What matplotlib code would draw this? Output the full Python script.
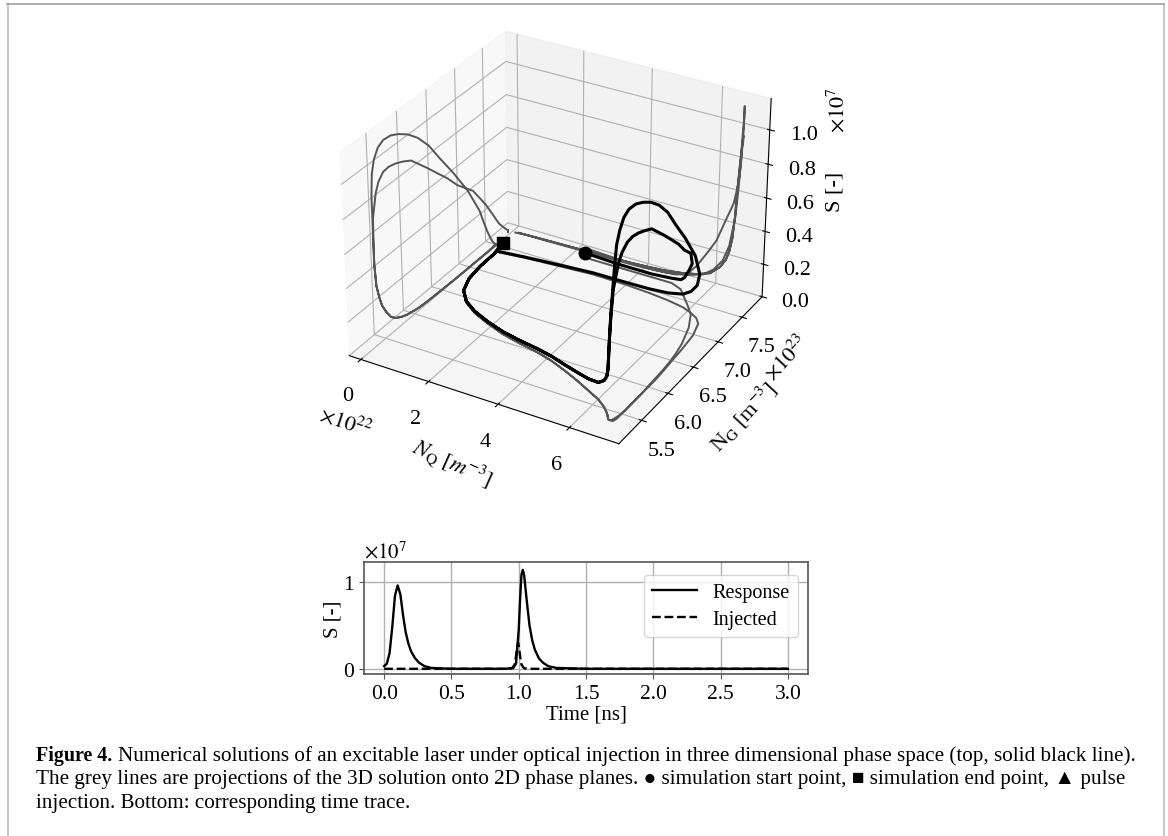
import matplotlib
matplotlib.use("Agg")
import matplotlib.pyplot as plt
from matplotlib.lines import Line2D

plt.rcParams['font.family'] = ['Liberation Serif', 'DejaVu Sans']
plt.rcParams['mathtext.fontset'] = 'stix'

# phase space trajectory, N_Q [1e22], N_G [1e23], S [1e7]
first_x = [2.4, 3.4, 4.4, 5.0, 5.35, 5.6, 5.9, 6.15, 6.4, 6.6, 6.68, 6.73, 6.76, 6.78, 6.8, 6.8, 6.8, 6.8, 6.78, 6.76, 6.72, 6.68]
first_y = [7.72, 7.72, 7.72, 7.72, 7.66, 7.55, 7.42, 7.30, 7.08, 6.8, 6.62, 6.46, 6.28, 6.02, 5.88, 5.76, 5.65, 5.56, 5.48, 5.43, 5.37, 5.36]
first_z = [0.03, 0.02, 0.02, 0.03, 0.06, 0.12, 0.22, 0.31, 0.45, 0.56, 0.65, 0.72, 0.80, 0.91, 0.94, 0.96, 0.97, 0.965, 0.93, 0.88, 0.75, 0.60]

tail_x = [6.65, 6.6, 6.53, 6.44, 6.28, 6.0, 5.6, 5.15, 4.65, 4.15, 3.65, 3.05, 2.46, 1.85, 1.3, 0.85, 0.5, 0.3, 0.22, 0.2]
tail_y = [5.36, 5.38, 5.42, 5.46, 5.52, 5.6, 5.68, 5.77, 5.86, 5.94, 6.0, 6.05, 6.11, 6.2, 6.3, 6.42, 6.58, 6.8, 7.05, 7.33]
tail_z = [0.48, 0.35, 0.27, 0.21, 0.156, 0.10, 0.07, 0.05, 0.035, 0.028, 0.022, 0.018, 0.015, 0.012, 0.01, 0.008, 0.006, 0.004, 0.003, 0.002]

second_x = [0.2, 1.0, 2.0, 3.0, 4.0, 4.7, 5.3, 5.8, 6.1, 6.35, 6.52, 6.66, 6.72, 6.75, 6.78, 6.8, 6.8, 6.8, 6.8, 6.8, 6.8, 6.8, 6.78, 6.76, 6.72, 6.68]
second_y = [7.38, 7.42, 7.45, 7.48, 7.47, 7.45, 7.42, 7.38, 7.33, 7.27, 7.19, 6.98, 6.72, 6.5, 6.32, 6.14, 5.98, 5.83, 5.70, 5.58, 5.49, 5.42, 5.38, 5.36, 5.36, 5.36]
second_z = [0.005, 0.005, 0.008, 0.01, 0.015, 0.025, 0.045, 0.08, 0.13, 0.20, 0.30, 0.48, 0.66, 0.80, 0.92, 1.01, 1.07, 1.11, 1.135, 1.14, 1.12, 1.07, 1.0, 0.88, 0.75, 0.62]

end_x = [0.15, 0.12, 0.1]
end_y = [7.42, 7.5, 7.57]
end_z = [0.001, 0.0, 0.0]

# time trace
t_resp = [0, .02, .04, .06, .08, .10, .12, .14, .16, .18, .20, .23, .26, .30, .35, .5, .9, .96, .98, 1.0, 1.01, 1.02, 1.03, 1.04, 1.06, 1.08, 1.10, 1.12, 1.15, 1.18, 1.22, 1.28, 1.5, 2, 3]
s_resp = [.03, .06, .18, .48, .84, .96, .86, .62, .42, .29, .2, .12, .07, .03, .01, 0, 0, .01, .06, .45, .8, 1.08, 1.14, 1.08, .78, .5, .33, .22, .12, .07, .03, .01, 0, 0, 0]
t_inj = [0, .9, .95, .97, .98, .99, .995, 1.0, 1.01, 1.02, 1.04, 1.1, 3]
s_inj = [0, 0, .005, .05, .15, .27, .3, .27, .15, .05, .005, 0, 0]

caption = ["Numerical solutions of an excitable laser under optical injection in three dimensional phase space (top, solid black line).",
           "The grey lines are projections of the 3D solution onto 2D phase planes. \u25cf simulation start point, \u25a0 simulation end point, \u25b2 pulse",
           "injection. Bottom: corresponding time trace."]

x = first_x + tail_x + second_x + tail_x + end_x
y = first_y + tail_y + second_y + tail_y + end_y
z = first_z + tail_z + second_z + tail_z + end_z

W, H = 1168, 837
fig = plt.figure(figsize=(W / 100, H / 100), dpi=100)

ax = fig.add_axes([(553 - 240) / W, 1 - (235 + 240) / H, 480 / W, 480 / H], projection='3d')
ax.set_xlim(-0.35, 7.35)
ax.set_ylim(5.08, 7.93)
ax.set_zlim(0, 1.18)

grey = '#555555'
ax.plot(x, [7.8] * len(x), z, color=grey, lw=1.4)
ax.plot([0] * len(x), y, z, color=grey, lw=1.4)
ax.plot(x, y, [0] * len(x), color=grey, lw=1.4)
ax.plot(x, y, z, color='k', lw=2.2)
ax.plot([x[0]], [y[0]], [z[0]], 'o', color='k', ms=9)
ax.plot([x[-1]], [y[-1]], [z[-1]], 's', color='k', ms=9)

ax.set_xticks([0, 2, 4, 6])
ax.set_yticks([5.5, 6.0, 6.5, 7.0, 7.5])
ax.set_zticks([0, 0.2, 0.4, 0.6, 0.8, 1.0])
ax.set_zticklabels(['0.0', '0.2', '0.4', '0.6', '0.8', '1.0'])
ax.tick_params(labelsize=16)
ax.tick_params(axis='x', pad=6)
ax.tick_params(axis='y', pad=5)
ax.tick_params(axis='z', pad=7)


def ftext(px, py, s, **kw):
    fig.text(px / W, 1 - py / H, s, ha='center', va='center', **kw)


ftext(452, 463, r'$N_{\mathrm{Q}}\ [m^{-3}]$', fontsize=16, rotation=-24)
ftext(743, 417, r'N$_{\mathrm{G}}$ [m$^{-3}$]', fontsize=16, rotation=47)
ftext(835, 192, 'S [-]', fontsize=16, rotation=90)
ftext(345, 423, r'$\mathit{\times 10^{22}}$', fontsize=16, rotation=-18)
ftext(787, 358, r'$\times 10^{23}$', fontsize=16, rotation=47)
ftext(838, 110, r'$\times 10^{7}$', fontsize=16, rotation=90)

ax2 = fig.add_axes([364 / W, 1 - 675 / H, 444 / W, 112 / H])
ax2.plot(t_resp, s_resp, color='k', lw=1.7, label='Response')
ax2.plot(t_inj, s_inj, color='k', lw=1.7, ls='--', label='Injected')
ax2.set_xlim(-0.15, 3.15)
ax2.set_ylim(-0.06, 1.23)
ax2.set_xticks([0, .5, 1, 1.5, 2, 2.5, 3])
ax2.set_xticklabels(['0.0', '0.5', '1.0', '1.5', '2.0', '2.5', '3.0'])
ax2.set_yticks([0, 1])
ax2.grid(True, color='#b0b0b0', lw=1)
ax2.tick_params(labelsize=15.5, color='#555555')
ax2.set_xlabel('Time [ns]', fontsize=15, labelpad=1)
ax2.set_ylabel('S [-]', fontsize=15, labelpad=1)
for s in ax2.spines.values():
    s.set_color('#555555')
    s.set_linewidth(1.2)
ax2.legend(loc='upper right', bbox_to_anchor=(1, 0.975), fontsize=14.5, handlelength=2.2, labelspacing=0.4)
ftext(386, 553, r'$\times 10^{7}$', fontsize=15)

fig.text(36 / W, 1 - 761 / H, 'Figure 4.', fontsize=14.4, fontweight='bold', va='baseline')
fig.text(118 / W, 1 - 761 / H, caption[0], fontsize=15.2, va='baseline')
fig.text(36 / W, 1 - 784 / H, caption[1], fontsize=15.2, va='baseline')
fig.text(36 / W, 1 - 808 / H, caption[2], fontsize=15.2, va='baseline')

# page frame
fig.add_artist(Line2D([7.5 / W, 7.5 / W], [0, 1 - 5 / H], color='#c8c8c8', lw=1.5))
fig.add_artist(Line2D([1164 / W, 1164 / W], [0, 1 - 5 / H], color='#c8c8c8', lw=1.5))
fig.add_artist(Line2D([7 / W, 1164 / W], [1 - 5 / H, 1 - 5 / H], color='#a0a0a0', lw=1.2))

fig.savefig('out.png', dpi=100)
